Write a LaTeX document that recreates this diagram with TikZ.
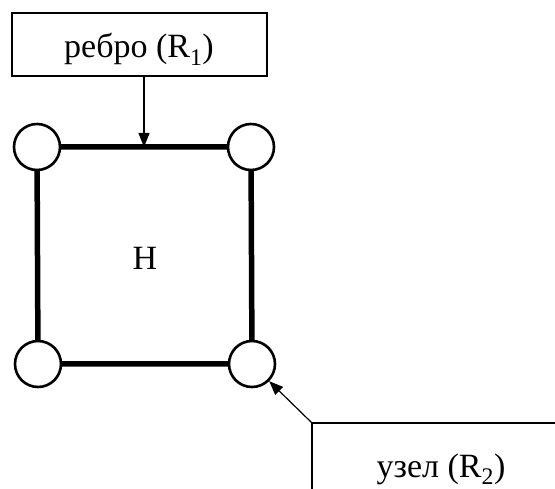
\documentclass[tikz,border=0pt]{standalone}
\usepackage{fontspec}
\setmainfont{Liberation Serif}
\usetikzlibrary{arrows.meta}
\begin{document}
\begin{tikzpicture}[x=1pt,y=-1pt,
  vert/.style={circle,draw,line width=2.6pt,minimum size=46pt,inner sep=0pt,fill=white},
  edge/.style={line width=5.5pt},
  lbl/.style={font=\fontsize{34}{38}\selectfont},
  ptr/.style={line width=1.2pt,-{Triangle[length=14pt,width=11pt]}}]
\useasboundingbox (0,0) rectangle (555,489);
\coordinate (tl) at (37,147);
\coordinate (tr) at (251,147);
\coordinate (bl) at (38,364);
\coordinate (br) at (252,364);
\draw[edge] (tl) -- (tr) -- (br) -- (bl) -- cycle;
\node[vert] (vtl) at (tl) {};
\node[vert] (vtr) at (tr) {};
\node[vert] (vbl) at (bl) {};
\node[vert] (vbr) at (br) {};
\node[lbl,inner sep=0pt,anchor=base] (h) at (145,270) {H};
\node[draw,line width=2pt,minimum width=255pt,minimum height=63pt,inner sep=0pt] (r1) at (139.5,44.5) {};
\node[lbl,inner sep=0pt,anchor=base] (t1) at (139,58) {ребро (R\textsubscript{1})};
\coordinate (e) at (144,147);
\draw[ptr] (r1.south -| e) -- (e);
\coordinate (c) at (312,423);
\draw[line width=2pt] (555,423) -- (c) -- (312,489);
\node[lbl,inner sep=0pt,anchor=base] (r2) at (441,477) {узел (R\textsubscript{2})};
\draw[ptr] (c) -- (vbr.-45);
\end{tikzpicture}
\end{document}
